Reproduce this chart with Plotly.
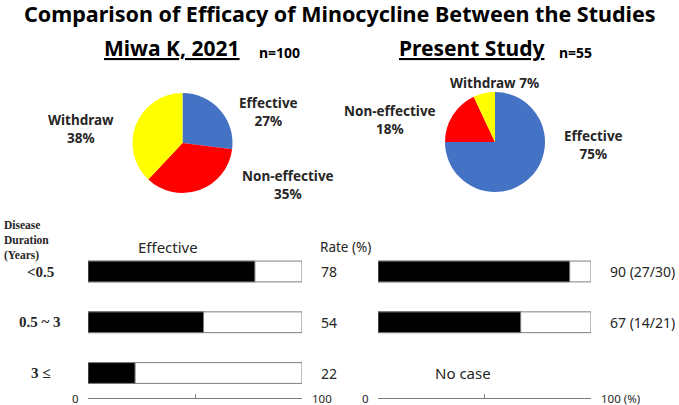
import plotly.graph_objects as go

W, H = 679, 405

# ---------------- data ----------------
pie_labels = ["Effective", "Non-effective", "Withdraw"]
miwa_pct = [27, 35, 38]
present_pct = [75, 18, 7]
pie_colors = ["#4472C4", "#FF0000", "#FFFF00"]

durations = ["&lt;0.5", "0.5 ~ 3", "3 ≤"]
miwa_rates = [78, 54, 22]
present_rates = [90, 67]
present_counts = ["27/30", "14/21"]

title = "Comparison of Efficacy of Minocycline Between the Studies"
study_names = ["Miwa K, 2021", "Present Study"]
study_n = ["n=100", "n=55"]

# ---------------- helpers ----------------
def px(x):
    return x / W

def py(y):
    return 1 - y / H

LAB = "Noto Sans, Liberation Sans, Arial, sans-serif"
TITLEF = "Noto Sans, Liberation Sans, Arial, sans-serif"
SERIF = "Liberation Serif, Times New Roman, serif"
TXT = "#262626"
GRAY = "#7f7f7f"

fig = go.Figure()

# ---------------- pies ----------------
fig.add_trace(go.Pie(
    labels=pie_labels, values=miwa_pct, sort=False, direction="clockwise",
    rotation=0, marker=dict(colors=pie_colors, line=dict(width=0)),
    textinfo="none", hoverinfo="label+percent", showlegend=False,
    domain=dict(x=[px(132.5), px(232.5)], y=[py(193), py(93)])))
fig.add_trace(go.Pie(
    labels=pie_labels, values=present_pct, sort=False, direction="clockwise",
    rotation=0, marker=dict(colors=pie_colors, line=dict(width=0)),
    textinfo="none", hoverinfo="label+percent", showlegend=False,
    domain=dict(x=[px(445), px(545)], y=[py(192), py(92)])))

# ---------------- bars ----------------
rows = list(range(len(durations)))
BW = 0.41
fig.add_trace(go.Bar(x=[100] * len(rows), y=rows, orientation="h", width=BW,
                     marker=dict(color="white", line=dict(color=GRAY, width=1)),
                     xaxis="x", yaxis="y", showlegend=False, hoverinfo="skip"))
fig.add_trace(go.Bar(x=miwa_rates, y=rows, orientation="h", width=BW,
                     marker=dict(color="black", line=dict(color=GRAY, width=1)),
                     xaxis="x", yaxis="y", showlegend=False))
prow = rows[:len(present_rates)]
fig.add_trace(go.Bar(x=[100] * len(prow), y=prow, orientation="h", width=BW,
                     marker=dict(color="white", line=dict(color=GRAY, width=1)),
                     xaxis="x2", yaxis="y", showlegend=False, hoverinfo="skip"))
fig.add_trace(go.Bar(x=present_rates, y=prow, orientation="h", width=BW,
                     marker=dict(color="black", line=dict(color=GRAY, width=1)),
                     xaxis="x2", yaxis="y", showlegend=False))

ybot, ytop = 398, 246
row0, rowstep = 271.5, 50.75
yr = [(ybot - row0) / rowstep, (ytop - row0) / rowstep]

axis_common = dict(range=[0, 100], showgrid=False, zeroline=False, showline=True,
                   linecolor=GRAY, linewidth=1, ticks="inside", ticklen=4,
                   tickcolor=GRAY, tickvals=[0, 50, 100], showticklabels=False,
                   anchor="y", fixedrange=True)
fig.update_layout(
    xaxis=dict(domain=[px(88), px(302)], **axis_common),
    xaxis2=dict(domain=[px(378), px(591)], **axis_common),
    yaxis=dict(domain=[py(ybot), py(ytop)], range=yr, visible=False, fixedrange=True),
    barmode="overlay",
)

ann = []

def A(text, x, y, xref="paper", yref="paper", xanchor="center", size=13, family=LAB,
      color=TXT, align="center", **kw):
    d = dict(text=text, x=x, y=y, xref=xref, yref=yref, xanchor=xanchor, yanchor="middle",
             showarrow=False, align=align, font=dict(family=family, size=size, color=color))
    d["font"].update(kw.pop("font", {}))
    d.update(kw)
    ann.append(d)

# title
A("<b>" + title + "</b>", 0.5, py(13), size=21.5, family=TITLEF, color="black")
# study subtitles
for name, n, xc, nx in [(study_names[0], study_n[0], 172, 257), (study_names[1], study_n[1], 471, 557)]:
    A("<b>" + name + "</b>", px(xc), py(48), size=21, family=TITLEF, color="black",
      font=dict(lineposition="under"))
    A("<b>" + n + "</b>", px(nx), py(52), xanchor="left", size=14, family=TITLEF, color="black")

# pie labels
def pie_lab(text, x, y):
    A("<b>" + text + "</b>", px(x), py(y), size=13.5)

pie_lab(f"{pie_labels[0]}<br>{miwa_pct[0]}%", 268, 112)
pie_lab(f"{pie_labels[1]}<br>{miwa_pct[1]}%", 288, 185)
pie_lab(f"{pie_labels[2]}<br>{miwa_pct[2]}%", 81, 129)
pie_lab(f"{pie_labels[2]} {present_pct[2]}%", 494, 83)
pie_lab(f"{pie_labels[1]}<br>{present_pct[1]}%", 390, 120)
pie_lab(f"{pie_labels[0]}<br>{present_pct[0]}%", 593, 145)

# bar panel headers
A("<b>Disease<br>Duration<br>(Years)</b>", px(2), py(240), xanchor="left", align="left",
  size=11.5, family=SERIF)
A("Effective", px(168), py(247), size=15)
A("Rate (%)", px(318), py(247), xanchor="left", size=13.5)

# row labels
for r, lab in zip(rows, durations):
    A("<b>" + lab + "</b>", px(40), r, yref="y", size=15, family=SERIF)
# values
for r, v in zip(rows, miwa_rates):
    A(str(v), 100, r, xref="x", yref="y", xanchor="left", xshift=17, size=14)
for r, v, c in zip(prow, present_rates, present_counts):
    A(f"{v} ({c})", 100, r, xref="x2", yref="y", xanchor="left", xshift=17, size=14)
A("No case", 40, rows[-1], xref="x2", yref="y", size=15)

# axis end labels
for xr, right in [("x", "100"), ("x2", "100 (%)")]:
    A("0", 0, py(ybot), xref=xr, xanchor="right", xshift=-7, size=11.5)
    A(right, 100, py(ybot), xref=xr, xanchor="left", xshift=8, size=11.5)

fig.update_layout(
    width=W, height=H, margin=dict(l=0, r=0, t=0, b=0),
    paper_bgcolor="white", plot_bgcolor="white",
    annotations=ann, showlegend=False,
)

fig.write_html("out.html", config={"displayModeBar": False},
               post_script="document.body.style.margin='0px';document.body.style.overflow='hidden';")
